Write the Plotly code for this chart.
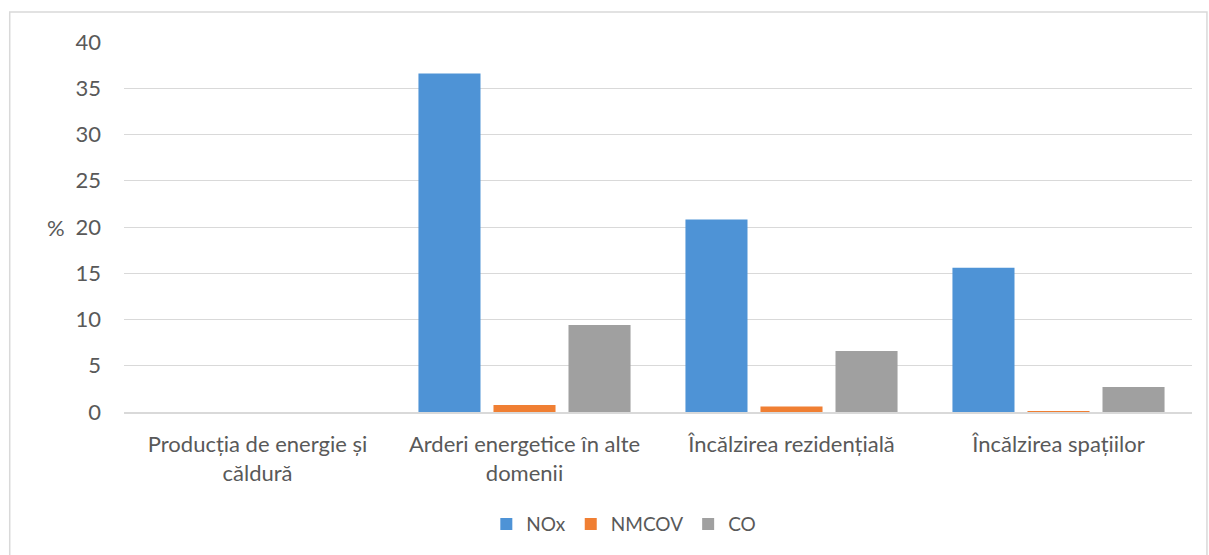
import plotly.graph_objects as go

categories = ["Producția de energie și<br>căldură", "Arderi energetice în alte<br>domenii",
              "Încălzirea rezidențială", "Încălzirea spațiilor"]
nox = [0, 36.6, 20.8, 15.6]
nmcov = [0, 0.75, 0.6, 0.05]
co = [0, 9.4, 6.6, 2.7]
y_ticks = [0, 5, 10, 15, 20, 25, 30, 35, 40]

FONT = "Lato"
TXT = "#595959"
FS = 22

fig = go.Figure()
fig.add_bar(x=categories, y=nox, name="NOx", marker=dict(color="#4e93d6", line=dict(width=0)))
fig.add_bar(x=categories, y=nmcov, name="NMCOV", marker=dict(color="#f07f33", line=dict(width=0)))
fig.add_bar(x=categories, y=co, name="CO", marker=dict(color="#a0a0a0", line=dict(width=0)))

fig.update_layout(
    width=1209, height=555,
    margin=dict(l=124, r=17, t=42, b=143),
    paper_bgcolor="white", plot_bgcolor="white",
    barmode="group", bargap=0.157, bargroupgap=0.173,
    font=dict(family=FONT, size=FS, color=TXT),
    showlegend=True,
    legend=dict(orientation="h", x=0.468, xanchor="center", y=-0.303, yanchor="middle",
                font=dict(size=19, color=TXT), itemwidth=30, traceorder="normal"),
    xaxis=dict(showgrid=False, showline=True, linecolor="#d9d9d9", linewidth=1.5,
               ticks="", ticklabelstandoff=12, tickfont=dict(size=FS, color=TXT)),
    yaxis=dict(range=[0, 40], tickvals=y_ticks, showgrid=True, gridcolor="#d9d9d9", gridwidth=1,
               zeroline=False, showline=False, ticks="", ticklabelstandoff=22,
               tickfont=dict(size=FS, color=TXT)),
    annotations=[dict(text="%", x=-0.064, y=20, xref="paper", yref="y", showarrow=False,
                      font=dict(size=FS, color=TXT), xanchor="center", yanchor="middle")],
    shapes=[dict(type="rect", xref="paper", yref="paper", x0=-0.107, x1=1.0140, y0=-0.41, y1=1.081,
                 line=dict(color="#d9d9d9", width=1.5), fillcolor="rgba(0,0,0,0)", layer="below")],
)

fig.write_html("out.html", config={"displayModeBar": False},
               post_script="document.body.style.margin='0';")
